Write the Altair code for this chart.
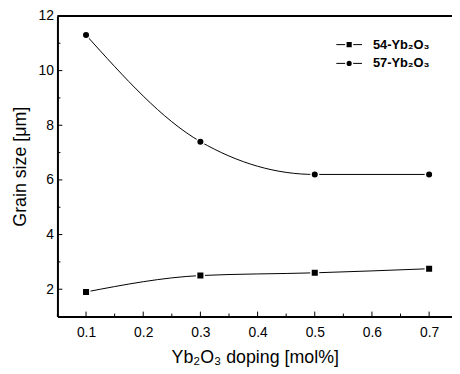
import altair as alt
import pandas as pd

doping = [0.1, 0.3, 0.5, 0.7]
s54 = [1.9, 2.5, 2.6, 2.75]
s57 = [11.3, 7.4, 6.2, 6.2]
series_names = ["54-Yb₂O₃", "57-Yb₂O₃"]
shapes = ["square", "circle"]
y_major = [2, 4, 6, 8, 10, 12]
y_minor = [1, 3, 5, 7, 9, 11]
x_major = [0.1, 0.2, 0.3, 0.4, 0.5, 0.6, 0.7]
x_minor = [0.05, 0.15, 0.25, 0.35, 0.45, 0.55, 0.65]

rows = []
for name, vals in zip(series_names, [s54, s57]):
    for d, v in zip(doping, vals):
        rows.append({"doping": d, "size": v, "series": name})
df = pd.DataFrame(rows)

FONT = "Liberation Sans"
xs = alt.Scale(domain=[0.05, 0.74], nice=False, zero=False)
ys = alt.Scale(domain=[1, 12], nice=False, zero=False)
shape_scale = alt.Scale(domain=series_names, range=shapes)

X = alt.X("doping:Q", scale=xs,
          axis=alt.Axis(values=x_major, format=".1f", ticks=False, grid=False,
                        domainColor="black", domainWidth=2, labelFontSize=14,
                        labelColor="black", labelPadding=9, labelFont=FONT,
                        title="Yb₂O₃ doping [mol%]", titleFont=FONT,
                        titleFontSize=18, titleFontWeight="normal",
                        titleColor="black", titlePadding=9))
Y = alt.Y("size:Q", scale=ys,
          axis=alt.Axis(values=y_major, ticks=False, grid=False,
                        domainColor="black", domainWidth=2, labelFontSize=14,
                        labelColor="black", labelPadding=4, labelFont=FONT,
                        title="Grain size [μm]", titleFont=FONT,
                        titleFontSize=18, titleFontWeight="normal",
                        titleColor="black", titlePadding=9))

lines = alt.Chart(df).mark_line(color="black", strokeWidth=1, interpolate="monotone").encode(
    x=X, y=Y, detail="series:N")
points = alt.Chart(df).mark_point(filled=True, color="black", opacity=1, size=58,
                                  stroke="white", strokeWidth=1.5).encode(
    x="doping:Q", y="size:Q",
    shape=alt.Shape("series:N", scale=shape_scale, legend=None))

# inward ticks
yt_major = alt.Chart(pd.DataFrame({"v": y_major})).mark_rule(color="black", strokeWidth=1).encode(
    y=alt.Y("v:Q", scale=ys), x=alt.value(0), x2=alt.value(5))
yt_minor = alt.Chart(pd.DataFrame({"v": y_minor})).mark_rule(color="black", strokeWidth=1).encode(
    y=alt.Y("v:Q", scale=ys), x=alt.value(0), x2=alt.value(3))
xt_major = alt.Chart(pd.DataFrame({"v": x_major})).mark_rule(color="black", strokeWidth=1).encode(
    x=alt.X("v:Q", scale=xs), y=alt.value(304), y2=alt.value(299))
xt_minor = alt.Chart(pd.DataFrame({"v": x_minor})).mark_rule(color="black", strokeWidth=1).encode(
    x=alt.X("v:Q", scale=xs), y=alt.value(304), y2=alt.value(301))
top_line = alt.Chart(pd.DataFrame({"v": [12]})).mark_rule(color="black", strokeWidth=2).encode(
    y=alt.Y("v:Q", scale=ys), x=alt.value(0), x2=alt.value(399))

main = alt.layer(lines, points, yt_major, yt_minor, xt_major, xt_minor, top_line)

# custom legend
leg_df = pd.DataFrame({"series": series_names})
LY = alt.Y("series:N", scale=alt.Scale(type="point", domain=series_names, range=[29, 48], padding=0),
           axis=None)
leg_line = alt.Chart(leg_df).mark_rule(color="black", strokeWidth=1).encode(
    y=LY, x=alt.value(282), x2=alt.value(308))
leg_pt = alt.Chart(leg_df).mark_point(filled=True, color="black", opacity=1, size=45,
                                      stroke="white", strokeWidth=1.5).encode(
    y=LY, x=alt.value(295),
    shape=alt.Shape("series:N", scale=shape_scale, legend=None))
leg_text = alt.Chart(leg_df).mark_text(align="left", baseline="middle", font=FONT,
                                       fontSize=13, fontWeight="bold", color="black").encode(
    y=LY, x=alt.value(319), text="series:N")
legend = alt.layer(leg_line, leg_pt, leg_text)

chart = alt.layer(main, legend).resolve_scale(y="independent").properties(
    width=399, height=304,
    autosize=alt.AutoSizeParams(type="none"),
    padding={"left": 50, "top": 6, "right": 0, "bottom": 50},
).configure_view(stroke=None).configure(background="white")

chart.save("out.html", embed_options={"renderer": "svg", "actions": False})
